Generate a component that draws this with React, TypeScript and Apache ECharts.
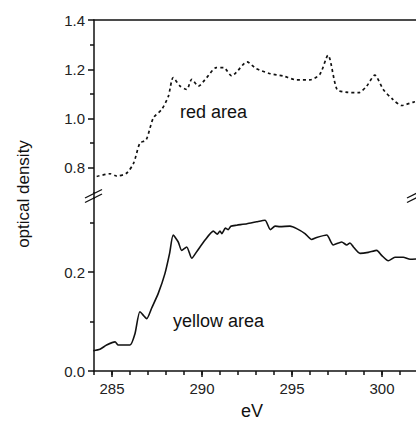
import React, { useEffect, useRef } from "react";
import * as echarts from "echarts";

// Red area (dashed) — photon energy (eV) and optical density
const redEnergy = [284.15, 284.9, 285.26, 285.8, 286.2, 286.55, 286.9, 287.3, 287.76, 288.13, 288.4, 288.78, 289.15, 289.43, 289.8, 290.26, 290.8, 291.2, 291.65, 291.9, 292.5, 293.0, 293.8, 294.5, 295.26, 296.0, 296.55, 297.0, 297.5, 298.0, 298.7, 299.15, 299.6, 300.07, 300.6, 301.1, 301.75, 302.0];
const redDensity = [0.765, 0.776, 0.767, 0.778, 0.819, 0.9, 0.914, 1.003, 1.037, 1.09, 1.166, 1.132, 1.118, 1.159, 1.132, 1.166, 1.207, 1.207, 1.173, 1.187, 1.23, 1.203, 1.182, 1.173, 1.157, 1.157, 1.18, 1.257, 1.118, 1.107, 1.105, 1.132, 1.176, 1.118, 1.078, 1.053, 1.067, 1.07];

// Yellow area (solid)
const yellowEnergy = [283.96, 284.33, 284.7, 285.17, 285.35, 286.0, 286.28, 286.55, 286.93, 287.2, 287.57, 287.94, 288.2, 288.4, 288.68, 288.87, 289.15, 289.43, 289.7, 290.17, 290.63, 290.85, 291.0, 291.1, 291.3, 291.46, 291.6, 291.93, 292.5, 293.04, 293.5, 293.8, 294.06, 294.33, 294.89, 295.26, 295.72, 296.09, 296.37, 296.93, 297.29, 297.76, 298.04, 298.22, 298.41, 298.78, 299.24, 299.71, 299.98, 300.35, 300.72, 301.18, 301.56, 302.0];
const yellowDensity = [0.041, 0.044, 0.0525, 0.059, 0.0525, 0.0525, 0.076, 0.12, 0.106, 0.127, 0.157, 0.197, 0.238, 0.275, 0.261, 0.244, 0.251, 0.228, 0.241, 0.265, 0.283, 0.277, 0.283, 0.278, 0.289, 0.286, 0.293, 0.295, 0.298, 0.302, 0.305, 0.286, 0.293, 0.292, 0.293, 0.288, 0.278, 0.266, 0.27, 0.275, 0.255, 0.261, 0.255, 0.259, 0.251, 0.238, 0.24, 0.244, 0.234, 0.223, 0.23, 0.23, 0.226, 0.227];

// Ticks
const xMajorTicks = [285, 290, 295, 300];
const topMajorTicks = [0.8, 1.0, 1.2, 1.4];
const topMinorTicks = [0.9, 1.1, 1.3];
const bottomMajorTicks = [0.0, 0.2];
const bottomMinorTicks = [0.1, 0.3];

const X_MIN = 284;
const X_MAX = 302;

const FONT = "'Liberation Sans', Arial, sans-serif";
const INK = "#111";
const AXIS_W = 1.5;

export default function App() {
  const ref = useRef<HTMLDivElement>(null);

  useEffect(() => {
    if (!ref.current) return;
    const chart = echarts.init(ref.current, undefined, { renderer: "svg" });

    const zip = (a: number[], b: number[]) => a.map((v, i) => [v, b[i]]);
    const fmt = (v: number) => v.toFixed(1);

    const majorY = (min: number, max: number, gridIndex: number, ticks: number[]) => ({
      type: "value",
      gridIndex,
      min,
      max,
      position: "left",
      axisLine: { show: true, lineStyle: { color: INK, width: AXIS_W } },
      axisTick: { show: true, customValues: ticks, length: 6, inside: false, lineStyle: { color: INK, width: AXIS_W } },
      axisLabel: { show: true, customValues: ticks, formatter: fmt, margin: 9, color: "#222", fontSize: 15, fontFamily: FONT },
      splitLine: { show: false },
    });
    const minorY = (min: number, max: number, gridIndex: number, ticks: number[]) => ({
      type: "value",
      gridIndex,
      min,
      max,
      position: "left",
      axisLine: { show: false },
      axisTick: { show: true, customValues: ticks, length: 4, inside: false, lineStyle: { color: INK, width: AXIS_W } },
      axisLabel: { show: false },
      splitLine: { show: false },
    });

    const option: any = {
      animation: false,
      backgroundColor: "#fff",
      grid: [
        { left: 94, right: 2, top: 20, height: 172.5 },
        { left: 94, right: 2, top: 198, height: 173 },
      ],
      xAxis: [
        {
          type: "value",
          gridIndex: 0,
          min: X_MIN,
          max: X_MAX,
          position: "top",
          axisLine: { show: true, lineStyle: { color: INK, width: AXIS_W } },
          axisTick: { show: false },
          axisLabel: { show: false },
          splitLine: { show: false },
        },
        {
          type: "value",
          gridIndex: 1,
          min: X_MIN,
          max: X_MAX,
          position: "bottom",
          axisLine: { show: true, lineStyle: { color: INK, width: AXIS_W } },
          axisTick: { show: true, customValues: xMajorTicks, length: 6, lineStyle: { color: INK, width: AXIS_W } },
          axisLabel: { show: true, customValues: xMajorTicks, margin: 10, color: "#222", fontSize: 15, fontFamily: FONT },
          splitLine: { show: false },
        },
        {
          type: "value",
          gridIndex: 1,
          min: X_MIN,
          max: X_MAX,
          interval: 1,
          position: "bottom",
          axisLine: { show: false },
          axisTick: { show: true, length: 4, lineStyle: { color: INK, width: AXIS_W } },
          axisLabel: { show: false },
          splitLine: { show: false },
        },
      ],
      yAxis: [
        majorY(0.7, 1.4, 0, topMajorTicks),
        minorY(0.7, 1.4, 0, topMinorTicks),
        majorY(0, 0.35, 1, bottomMajorTicks),
        minorY(0, 0.35, 1, bottomMinorTicks),
      ],
      series: [
        {
          name: "red area",
          type: "line",
          xAxisIndex: 0,
          yAxisIndex: 0,
          data: zip(redEnergy, redDensity),
          showSymbol: false,
          smooth: 0.25,
          clip: true,
          lineStyle: { color: INK, width: 1.7, type: [3, 3] },
        },
        {
          name: "yellow area",
          type: "line",
          xAxisIndex: 1,
          yAxisIndex: 2,
          data: zip(yellowEnergy, yellowDensity),
          showSymbol: false,
          smooth: 0.2,
          clip: true,
          lineStyle: { color: INK, width: 1.6 },
        },
      ],
      graphic: [
        // axis continuation through the break
        { type: "line", shape: { x1: 94, y1: 192, x2: 94, y2: 199 }, style: { stroke: INK, lineWidth: AXIS_W } },
        // left break marks
        { type: "line", shape: { x1: 85, y1: 198, x2: 102, y2: 189.5 }, style: { stroke: INK, lineWidth: 1.3 } },
        { type: "line", shape: { x1: 85, y1: 202.5, x2: 102, y2: 194 }, style: { stroke: INK, lineWidth: 1.3 } },
        // right break marks
        { type: "line", shape: { x1: 407, y1: 198, x2: 424, y2: 189.5 }, style: { stroke: INK, lineWidth: 1.3 } },
        { type: "line", shape: { x1: 407, y1: 202.5, x2: 424, y2: 194 }, style: { stroke: INK, lineWidth: 1.3 } },
        {
          type: "text",
          x: 180,
          y: 112,
          style: { text: "red area", fontSize: 18, fontFamily: FONT, fill: "#111", textAlign: "left", textVerticalAlign: "middle" },
        },
        {
          type: "text",
          x: 173,
          y: 321,
          style: { text: "yellow area", fontSize: 18, fontFamily: FONT, fill: "#111", textAlign: "left", textVerticalAlign: "middle" },
        },
        {
          type: "text",
          x: 23,
          y: 194,
          rotation: Math.PI / 2,
          style: { text: "optical density", fontSize: 17, fontFamily: FONT, fill: "#111", textAlign: "center", textVerticalAlign: "middle" },
        },
        {
          type: "text",
          x: 252,
          y: 411,
          style: { text: "eV", fontSize: 18, fontFamily: FONT, fill: "#111", textAlign: "center", textVerticalAlign: "middle" },
        },
      ],
    };

    chart.setOption(option);
    return () => chart.dispose();
  }, []);

  return (
    <div style={{ position: "fixed", left: 0, top: 0, width: 416, height: 425, overflow: "hidden", background: "#fff" }}>
      <div ref={ref} style={{ width: 420, height: 425 }} />
    </div>
  );
}
